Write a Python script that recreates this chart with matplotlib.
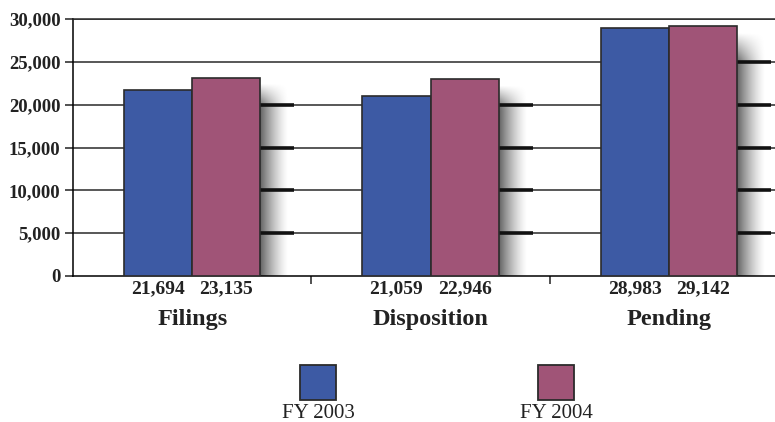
import numpy as np
import matplotlib.pyplot as plt
from matplotlib.patches import Rectangle

categories = ["Filings", "Disposition", "Pending"]
fy2003 = [21694, 21059, 28983]
fy2004 = [23135, 22946, 29142]
series_names = ["FY 2003", "FY 2004"]
yticks = [0, 5000, 10000, 15000, 20000, 25000, 30000]

BLUE = "#3d5aa4"
PLUM = "#a05477"
EDGE = "#2b2b2b"

plt.rcParams["font.family"] = ["Liberation Serif", "DejaVu Serif"]


def main():
    fig = plt.figure(figsize=(7.75, 4.22), dpi=100)
    ax = fig.add_axes([73 / 775, 146 / 422, 702 / 775, 257 / 422])

    x = np.arange(len(categories))
    w = 0.286

    # gridlines
    for v in yticks[1:]:
        ax.axhline(v, color="#2a2a2a", lw=1.1, zorder=1)

    # soft drop shadow to the right of each group
    grad = np.zeros((60, 40, 4))
    hfade = np.linspace(0.7, 0.0, 40) ** 1.4
    vfade = np.clip(np.linspace(0, 1, 60) / 0.12, 0, 1)
    grad[..., 3] = vfade[:, None] * hfade[None, :]
    for xi, top in zip(x, fy2004):
        x0 = xi + w
        ax.imshow(grad, extent=[x0, x0 + 0.12, 0, top - 600],
                  origin="upper", aspect="auto", zorder=2, interpolation="bilinear")
        # heavier grid segments behind the shadow
        for v in yticks[1:]:
            if v < top:
                ax.plot([x0, x0 + 0.143], [v, v], color="#111111", lw=2.6,
                        solid_capstyle="butt", zorder=3)

    ax.bar(x - w / 2, fy2003, w, color=BLUE, edgecolor=EDGE, lw=1.2, zorder=4)
    ax.bar(x + w / 2, fy2004, w, color=PLUM, edgecolor=EDGE, lw=1.2, zorder=4)

    ax.set_aspect("auto")
    ax.set_xlim(-0.5, 2.445)
    ax.set_ylim(0, 30000)

    # value labels and category names under the axis
    tr = ax.get_xaxis_transform()
    for xi, a, b, name in zip(x, fy2003, fy2004, categories):
        ax.text(xi - w / 2, -0.05, f"{a:,}", transform=tr, ha="center", va="center",
                fontsize=14, fontweight="bold", color="#222222")
        ax.text(xi + w / 2, -0.05, f"{b:,}", transform=tr, ha="center", va="center",
                fontsize=14, fontweight="bold", color="#222222")
        ax.text(xi, -0.17, name, transform=tr, ha="center", va="center",
                fontsize=17.5, fontweight="bold", color="#222222")

    ax.set_yticks(yticks)
    ax.set_yticklabels([f"{v:,}" for v in yticks], fontsize=13.5, fontweight="bold",
                       color="#222222")
    ax.set_xticks([0.5, 1.5])
    ax.set_xticklabels([])
    ax.tick_params(axis="both", direction="out", length=6, width=1.1, color="#222222")
    ax.tick_params(axis="y", pad=3)

    ax.spines["right"].set_visible(False)
    ax.spines["top"].set_color("#2a2a2a")
    for side in ("top", "left", "bottom"):
        ax.spines[side].set_linewidth(1.1)

    # legend swatches below the chart
    for cx, col, name in zip([318 / 775, 556 / 775], [BLUE, PLUM], series_names):
        fig.add_artist(Rectangle((cx - 18 / 775, 22 / 422), 36 / 775, 35 / 422,
                                 transform=fig.transFigure, facecolor=col,
                                 edgecolor=EDGE, lw=1.3))
        fig.text(cx, 9 / 422, name, ha="center", va="center", fontsize=15,
                 color="#222222")

    fig.savefig("out.png", dpi=100)


if __name__ == "__main__":
    main()
